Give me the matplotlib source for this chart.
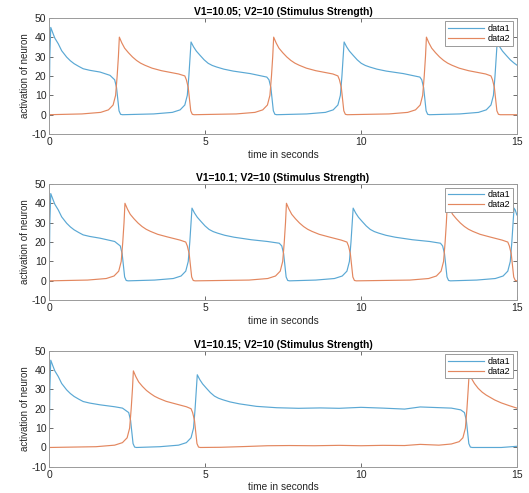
import matplotlib
matplotlib.use('Agg')
import matplotlib.pyplot as plt

plt.rcParams['font.family'] = ['Liberation Sans', 'DejaVu Sans']
plt.rcParams['axes.unicode_minus'] = False

titles = ['V1=10.05; V2=10 (Stimulus Strength)',
          'V1=10.1; V2=10 (Stimulus Strength)',
          'V1=10.15; V2=10 (Stimulus Strength)']
series_names = ['data1', 'data2']
xticks = [0, 5, 10, 15]
yticks = [-10, 0, 10, 20, 30, 40, 50]

# panel 1 (V1=10.05)
t1_blue = [0, 0.02, 0.05, 0.12, 0.18, 0.29, 0.40, 0.56, 0.68, 0.80, 0.95, 1.09, 1.30, 1.63, 1.95,
           2.10, 2.16, 2.20, 2.24, 2.29, 2.35,
           3.35, 3.95, 4.20, 4.35, 4.43, 4.48, 4.52, 4.55,
           4.63, 4.72, 4.84, 4.97, 5.10, 5.23, 5.37, 5.60, 5.90, 6.45, 6.98,
           7.05, 7.11, 7.15, 7.19, 7.24, 7.30,
           8.26, 8.86, 9.11, 9.26, 9.34, 9.39, 9.43, 9.46,
           9.54, 9.63, 9.75, 9.88, 10.01, 10.14, 10.28, 10.51, 10.81, 11.36, 11.89,
           11.95, 12.01, 12.05, 12.09, 12.14, 12.20,
           13.17, 13.77, 14.02, 14.17, 14.25, 14.30, 14.34, 14.37,
           14.45, 14.54, 14.66, 14.79, 14.92, 15.0]
v1_blue = [0, 30, 45, 42, 39.5, 36.6, 33, 29.7, 27.8, 26.3, 24.9, 23.7, 22.9, 22, 20.3,
           18, 14, 8, 2, 0.2, 0,
           0.4, 1.2, 2.5, 5, 10, 20, 30, 37.5,
           35, 32.8, 30.6, 28.3, 26.5, 25.4, 24.6, 23.5, 22.5, 21.2, 19.4,
           18, 14, 8, 2, 0.2, 0,
           0.4, 1.2, 2.5, 5, 10, 20, 30, 37.5,
           35, 32.8, 30.6, 28.3, 26.5, 25.4, 24.6, 23.5, 22.5, 21.2, 19.4,
           18, 14, 8, 2, 0.2, 0,
           0.4, 1.2, 2.5, 5, 10, 20, 30, 37.5,
           35, 32.8, 30.6, 28.3, 26.5, 25.6]
t1_orange = [0, 1.05, 1.65, 1.90, 2.05, 2.13, 2.18, 2.22, 2.25,
             2.33, 2.42, 2.54, 2.67, 2.80, 2.93, 3.07, 3.30, 3.60, 4.15, 4.35,
             4.40, 4.46, 4.50, 4.54, 4.59, 4.65,
             6.00, 6.60, 6.85, 7.00, 7.08, 7.13, 7.17, 7.20,
             7.28, 7.37, 7.49, 7.62, 7.75, 7.88, 8.02, 8.25, 8.55, 9.10, 9.26,
             9.31, 9.37, 9.41, 9.45, 9.50, 9.56,
             10.90, 11.50, 11.75, 11.90, 11.98, 12.03, 12.07, 12.10,
             12.18, 12.27, 12.39, 12.52, 12.65, 12.78, 12.92, 13.15, 13.45, 14.00, 14.17,
             14.22, 14.28, 14.32, 14.36, 14.41, 14.47, 15.0]
v1_orange = [0, 0.4, 1.2, 2.5, 5, 10, 20, 30, 40,
             37, 34.3, 32, 29.8, 28, 26.6, 25.5, 24, 22.7, 21, 20,
             18, 14, 8, 2, 0.2, 0,
             0.4, 1.2, 2.5, 5, 10, 20, 30, 40,
             37, 34.3, 32, 29.8, 28, 26.6, 25.5, 24, 22.7, 21, 20,
             18, 14, 8, 2, 0.2, 0,
             0.4, 1.2, 2.5, 5, 10, 20, 30, 40,
             37, 34.3, 32, 29.8, 28, 26.6, 25.5, 24, 22.7, 21, 20,
             18, 14, 8, 2, 0.2, 0, 0]

# panel 2 (V1=10.1)
t2_blue = [0, 0.02, 0.05, 0.12, 0.18, 0.29, 0.40, 0.56, 0.68, 0.80, 0.95, 1.09, 1.30, 1.63, 2.10,
           2.28, 2.34, 2.38, 2.42, 2.47, 2.53,
           3.38, 3.98, 4.23, 4.38, 4.46, 4.51, 4.55, 4.58,
           4.66, 4.75, 4.87, 5.00, 5.13, 5.26, 5.40, 5.63, 5.93, 6.48, 7.00, 7.38,
           7.46, 7.52, 7.56, 7.60, 7.65, 7.71,
           8.55, 9.15, 9.40, 9.55, 9.63, 9.68, 9.72, 9.75,
           9.83, 9.92, 10.04, 10.17, 10.30, 10.43, 10.57, 10.80, 11.10, 11.65, 12.20, 12.55,
           12.62, 12.68, 12.72, 12.76, 12.81, 12.87,
           13.71, 14.31, 14.56, 14.71, 14.79, 14.84, 14.88, 14.91,
           14.95, 15.0]
v2_blue = [0, 30, 45, 42, 39.5, 36.6, 33, 29.7, 27.8, 26.3, 24.9, 23.7, 22.9, 22, 20.3,
           18, 14, 8, 2, 0.2, 0,
           0.4, 1.2, 2.5, 5, 10, 20, 30, 37.5,
           35, 32.8, 30.6, 28.3, 26.5, 25.4, 24.6, 23.5, 22.5, 21.2, 20.3, 19.4,
           18, 14, 8, 2, 0.2, 0,
           0.4, 1.2, 2.5, 5, 10, 20, 30, 37.5,
           35, 32.8, 30.6, 28.3, 26.5, 25.4, 24.6, 23.5, 22.5, 21.2, 20.3, 19.4,
           18, 14, 8, 2, 0.2, 0,
           0.4, 1.2, 2.5, 5, 10, 20, 30, 37.5,
           36.5, 34]
t2_orange = [0, 1.23, 1.83, 2.08, 2.23, 2.31, 2.36, 2.40, 2.43,
             2.51, 2.60, 2.72, 2.85, 2.98, 3.11, 3.25, 3.48, 3.78, 4.20, 4.38,
             4.43, 4.49, 4.53, 4.57, 4.62, 4.68,
             6.41, 7.01, 7.26, 7.41, 7.49, 7.54, 7.58, 7.61,
             7.69, 7.78, 7.90, 8.03, 8.16, 8.29, 8.43, 8.66, 8.96, 9.37, 9.55,
             9.60, 9.66, 9.70, 9.74, 9.79, 9.85,
             11.57, 12.17, 12.42, 12.57, 12.65, 12.70, 12.74, 12.77,
             12.85, 12.94, 13.06, 13.19, 13.32, 13.45, 13.59, 13.82, 14.12, 14.53, 14.71,
             14.76, 14.82, 14.86, 14.90, 14.95, 15.0]
v2_orange = [0, 0.4, 1.2, 2.5, 5, 10, 20, 30, 40,
             37, 34.3, 32, 29.8, 28, 26.6, 25.5, 24, 22.7, 21, 20,
             18, 14, 8, 2, 0.2, 0,
             0.4, 1.2, 2.5, 5, 10, 20, 30, 40,
             37, 34.3, 32, 29.8, 28, 26.6, 25.5, 24, 22.7, 21, 20,
             18, 14, 8, 2, 0.2, 0,
             0.4, 1.2, 2.5, 5, 10, 20, 30, 40,
             37, 34.3, 32, 29.8, 28, 26.6, 25.5, 24, 22.7, 21, 20,
             18, 14, 8, 2, 0.2, 0]

# panel 3 (V1=10.15)
t3_blue = [0, 0.02, 0.05, 0.12, 0.18, 0.29, 0.40, 0.56, 0.68, 0.80, 0.95, 1.09, 1.30, 1.63, 2.10, 2.35,
           2.55, 2.61, 2.65, 2.69, 2.74, 2.80,
           3.55, 4.15, 4.40, 4.55, 4.63, 4.68, 4.72, 4.75,
           4.83, 4.92, 5.04, 5.17, 5.30, 5.43, 5.57, 5.80, 6.10, 6.65, 7.3, 8.0, 8.7, 9.3, 10.0,
           10.7, 11.4, 11.9, 12.4, 12.9, 13.2,
           13.32, 13.38, 13.42, 13.46, 13.51, 13.57, 14.5, 15.0]
v3_blue = [0, 30, 45, 42, 39.5, 36.6, 33, 29.7, 27.8, 26.3, 24.9, 23.7, 22.9, 22, 21, 20.3,
           18, 14, 8, 2, 0.2, 0,
           0.4, 1.2, 2.5, 5, 10, 20, 30, 37.5,
           35, 32.8, 30.6, 28.3, 26.5, 25.4, 24.6, 23.5, 22.5, 21.2, 20.5, 20.2, 20.4, 20.2, 20.7,
           20.3, 19.8, 20.9, 20.6, 20.3, 19.4,
           18, 14, 8, 2, 0.2, 0, 0, 0.6]
t3_orange = [0, 1.50, 2.10, 2.35, 2.50, 2.58, 2.63, 2.67, 2.70,
             2.78, 2.87, 2.99, 3.12, 3.25, 3.38, 3.52, 3.75, 4.05, 4.40, 4.55,
             4.60, 4.66, 4.70, 4.74, 4.79, 4.85,
             5.5, 6.3, 7.0, 7.7, 8.5, 9.3, 10.0, 10.7, 11.4, 11.9, 12.5, 12.9,
             13.15, 13.27, 13.35, 13.40, 13.44, 13.47,
             13.55, 13.64, 13.76, 13.89, 14.02, 14.15, 14.29, 14.50, 14.75, 15.0]
v3_orange = [0, 0.4, 1.2, 2.5, 5, 10, 20, 30, 39.5,
             36.5, 33.8, 31.5, 29.4, 27.8, 26.4, 25.3, 23.8, 22.5, 21, 20,
             18, 14, 8, 2, 0.2, 0,
             0.1, 0.5, 0.9, 1.0, 0.9, 1.1, 0.9, 1.1, 1.0, 1.6, 1.2, 1.8,
             3, 5, 10, 20, 30, 38,
             35.5, 33, 30.5, 28.5, 27, 25.8, 24.5, 23, 21.6, 20.3]

panels = [(t1_blue, v1_blue, t1_orange, v1_orange),
          (t2_blue, v2_blue, t2_orange, v2_orange),
          (t3_blue, v3_blue, t3_orange, v3_orange)]

blue = '#5aa8d4'
orange = '#e3875f'
grey = '#9a9a9a'

fig = plt.figure(figsize=(5.29, 4.93), dpi=100)
bottoms = [0.728, 0.391, 0.053]

for i, (tb, vb, to, vo) in enumerate(panels):
    ax = fig.add_axes([0.093, bottoms[i], 0.884, 0.236])
    ax.plot(tb, vb, color=blue, lw=0.85, label=series_names[0])
    ax.plot(to, vo, color=orange, lw=0.85, label=series_names[1])
    ax.set_xlim(0, 15)
    ax.set_ylim(-10, 50)
    ax.set_xticks(xticks)
    ax.set_yticks(yticks)
    ax.tick_params(direction='in', top=True, right=True, length=3, width=0.6,
                   color='#555555', labelsize=7.5, labelcolor='#262626', pad=2)
    for s in ax.spines.values():
        s.set_color(grey)
        s.set_linewidth(0.7)
    ax.set_title(titles[i], fontsize=7.4, fontweight='bold', pad=2)
    ax.set_xlabel('time in seconds', fontsize=7.3, color='#262626', labelpad=2)
    ax.set_ylabel('activation of neuron', fontsize=7, color='#262626', labelpad=1)
    leg = ax.legend(loc='upper right', fontsize=6.5, fancybox=False, framealpha=1,
                    edgecolor=grey, handlelength=4.0, borderpad=0.3,
                    labelspacing=0.1, handletextpad=0.4, borderaxespad=0.4)
    leg.get_frame().set_linewidth(0.7)

fig.savefig('out.png', dpi=100)
